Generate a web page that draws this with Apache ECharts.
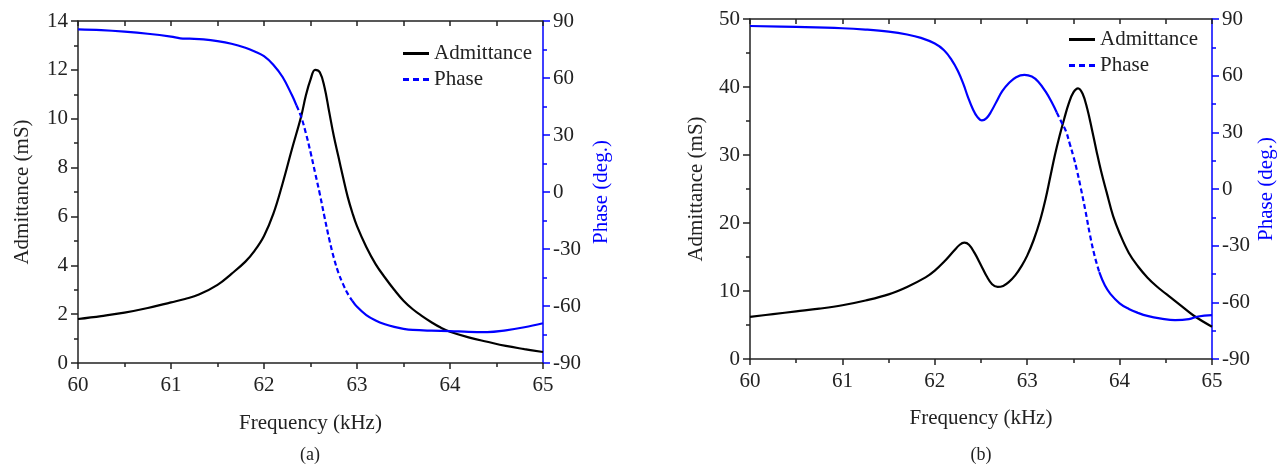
<!DOCTYPE html>
<html>
<head>
<meta charset="utf-8">
<script src="https://cdn.jsdelivr.net/npm/echarts@6/dist/echarts.min.js"></script>
<style>html,body{margin:0;padding:0;background:#fff;overflow:hidden;}#c{width:1280px;height:464px;}</style>
</head>
<body>
<div id="c"></div>
<script>
// ---- Plot (a) ----
const freqAdmA = [60, 60.25, 60.5, 60.75, 61.0, 61.15, 61.3, 61.5, 61.65, 61.8, 61.9, 62.0, 62.1, 62.2, 62.3, 62.4, 62.45, 62.5, 62.55, 62.6, 62.65, 62.7, 62.75, 62.8, 62.85, 62.9, 62.95, 63.0, 63.1, 63.2, 63.3, 63.4, 63.5, 63.6, 63.7, 63.8, 63.9, 64.0, 64.2, 64.4, 64.6, 64.8, 65];
const admA =     [1.8, 1.92, 2.06, 2.25, 2.48, 2.62, 2.8, 3.2, 3.65, 4.15, 4.6, 5.2, 6.1, 7.35, 8.75, 10.1, 10.95, 11.6, 12.0, 11.9, 11.3, 10.3, 9.3, 8.45, 7.6, 6.8, 6.15, 5.6, 4.75, 4.05, 3.5, 3.0, 2.55, 2.2, 1.92, 1.67, 1.45, 1.28, 1.05, 0.87, 0.7, 0.57, 0.45];
const freqPhA = [60, 60.25, 60.5, 60.75, 61.0, 61.1, 61.2, 61.35, 61.5, 61.65, 61.8, 61.9, 62.0, 62.1, 62.2, 62.3, 62.35, 62.4, 62.45, 62.5, 62.55, 62.6, 62.65, 62.7, 62.75, 62.8, 62.85, 62.9, 62.95, 63.0, 63.1, 63.2, 63.3, 63.4, 63.5, 63.6, 63.8, 64.0, 64.2, 64.4, 64.6, 64.8, 65];
const phA =     [85.6, 85.2, 84.4, 83.3, 81.8, 80.9, 80.7, 80.3, 79.4, 78.0, 75.9, 74.0, 71.5, 67.0, 60.5, 51.0, 45.5, 39.5, 31, 21, 10, -1, -13, -24.5, -34.5, -42.5, -48.5, -53.5, -57.3, -60.4, -64.8, -67.6, -69.6, -71.0, -72.0, -72.6, -73.0, -73.2, -73.6, -73.7, -72.8, -71.2, -69.1];
const dashA = [62.35, 62.95];

// ---- Plot (b) ----
const freqAdmB = [60, 60.25, 60.5, 60.75, 61.0, 61.25, 61.5, 61.7, 61.9, 62.0, 62.1, 62.2, 62.27, 62.32, 62.37, 62.43, 62.5, 62.56, 62.62, 62.68, 62.74, 62.8, 62.87, 62.94, 63.0, 63.07, 63.14, 63.2, 63.25, 63.3, 63.35, 63.4, 63.45, 63.5, 63.55, 63.6, 63.65, 63.7, 63.75, 63.8, 63.86, 63.93, 64.0, 64.1, 64.2, 64.3, 64.4, 64.5, 64.65, 64.8, 65];
const admB =     [6.2, 6.6, 7.0, 7.4, 7.9, 8.6, 9.5, 10.6, 12.0, 13.0, 14.3, 15.8, 16.8, 17.1, 16.8, 15.6, 13.8, 12.2, 11.0, 10.6, 10.75, 11.3, 12.3, 13.7, 15.2, 17.5, 20.4, 23.6, 26.8, 30.0, 32.8, 35.3, 37.6, 39.2, 39.8, 39.0, 36.8, 33.8, 30.6, 27.6, 24.5, 21.0, 18.5, 15.6, 13.6, 12.0, 10.7, 9.6, 8.0, 6.4, 4.75];
const freqPhB = [60, 60.5, 61.0, 61.25, 61.5, 61.7, 61.85, 62.0, 62.1, 62.18, 62.25, 62.31, 62.36, 62.41, 62.46, 62.51, 62.56, 62.61, 62.67, 62.73, 62.8, 62.88, 62.97, 63.05, 63.12, 63.2, 63.27, 63.32, 63.37, 63.42, 63.46, 63.5, 63.54, 63.58, 63.63, 63.68, 63.73, 63.78, 63.84, 63.9, 64.0, 64.1, 64.2, 64.3, 64.45, 64.6, 64.75, 64.85, 65];
const phB =     [86.3, 85.8, 85.1, 84.4, 83.3, 81.8, 80.0, 77.0, 73.5, 68.5, 62.5, 55.5, 48.5, 42.5, 38.2, 36.3, 37.5, 41.0, 46.5, 51.8, 56.0, 59.2, 60.4, 59.5, 56.8, 51.5, 45.5, 40.5, 35.5, 30.5, 24.0, 17.3, 9.5, 0.5, -11.5, -24.5, -35.5, -44.0, -51.0, -55.5, -60.5, -63.5, -65.6, -67.2, -68.6, -69.4, -68.9, -67.5, -66.8];
const dashB = [63.32, 63.78];

const admTicksA = {min: 0, max: 14, interval: 2};
const admTicksB = {min: 0, max: 50, interval: 10};
const phTicks = {min: -90, max: 90, interval: 30};
const freqTicks = {min: 60, max: 65, interval: 1};

const FONT = 'Liberation Serif';
const FS = 21;
const BLUE = '#0000ff';
const AX = '#222';
const ICON_SOLID = 'path://M0,0H26V3H0Z';
const ICON_DASH = 'path://M0,0H6V3H0Z M10,0H16V3H10Z M20,0H26V3H20Z';

function pairs(f, v) { return f.map((x, i) => [x, v[i]]); }
function segment(f, v, lo, hi) { return pairs(f, v).filter(p => p[0] >= lo && p[0] <= hi); }

function xAxes(grid, gap) {
  return [
    {gridIndex: grid, type: 'value', min: freqTicks.min, max: freqTicks.max, interval: freqTicks.interval,
     name: 'Frequency (kHz)', nameLocation: 'middle', nameGap: gap,
     nameTextStyle: {fontFamily: FONT, fontSize: FS, color: AX},
     axisLine: {show: true, onZero: false, lineStyle: {color: AX, width: 1.5}},
     axisTick: {show: true, inside: false, length: 6, lineStyle: {color: AX, width: 1.5}},
     minorTick: {show: true, splitNumber: 2, length: 4, lineStyle: {color: AX, width: 1.5}},
     axisLabel: {fontFamily: FONT, fontSize: FS, color: AX, margin: 12},
     splitLine: {show: false}},
    {gridIndex: grid, type: 'value', position: 'top', min: freqTicks.min, max: freqTicks.max, interval: freqTicks.interval,
     axisLine: {show: true, onZero: false, lineStyle: {color: AX, width: 1.5}},
     axisTick: {show: true, inside: true, length: 5, lineStyle: {color: AX, width: 1.5}},
     minorTick: {show: true, splitNumber: 2, length: 5, lineStyle: {color: AX, width: 1.5}},
     axisLabel: {show: false}, splitLine: {show: false}}
  ];
}
function yAxes(grid, adm, gapL, gapR) {
  return [
    {gridIndex: grid, type: 'value', position: 'left', min: adm.min, max: adm.max, interval: adm.interval,
     name: 'Admittance (mS)', nameLocation: 'middle', nameGap: gapL, nameRotate: 90,
     nameTextStyle: {fontFamily: FONT, fontSize: FS, color: AX},
     axisLine: {show: true, onZero: false, lineStyle: {color: AX, width: 1.5}},
     axisTick: {show: true, inside: false, length: 7, lineStyle: {color: AX, width: 1.5}},
     minorTick: {show: true, splitNumber: 2, length: 4, lineStyle: {color: AX, width: 1.5}},
     axisLabel: {fontFamily: FONT, fontSize: FS, color: AX, margin: 10},
     splitLine: {show: false}},
    {gridIndex: grid, type: 'value', position: 'right', min: phTicks.min, max: phTicks.max, interval: phTicks.interval,
     name: 'Phase (deg.)', nameLocation: 'middle', nameGap: gapR, nameRotate: 90,
     nameTextStyle: {fontFamily: FONT, fontSize: FS, color: BLUE},
     axisLine: {show: true, onZero: false, lineStyle: {color: BLUE, width: 1.5}},
     axisTick: {show: true, inside: false, length: 7, lineStyle: {color: BLUE, width: 1.5}},
     minorTick: {show: true, splitNumber: 2, length: 4, lineStyle: {color: BLUE, width: 1.5}},
     axisLabel: {fontFamily: FONT, fontSize: FS, color: AX, margin: 10},
     splitLine: {show: false}}
  ];
}
function lineSeries(name, xi, yi, data, color, dashed) {
  return {name: name, type: 'line', xAxisIndex: xi, yAxisIndex: yi, data: data,
    smooth: 0.4, symbol: 'none', showSymbol: false, clip: true,
    lineStyle: {color: color, width: 2.2, type: dashed ? [5, 3] : 'solid'},
    itemStyle: {color: color}};
}
function legendAt(left, top) {
  return {left: left, top: top, orient: 'vertical', padding: 0, itemGap: 5, itemWidth: 26, itemHeight: 3,
    data: [{name: 'Admittance', icon: ICON_SOLID}, {name: 'Phase', icon: ICON_DASH}],
    textStyle: {fontFamily: FONT, fontSize: FS, color: AX}, selectedMode: false};
}

const option = {
  animation: false,
  backgroundColor: '#fff',
  grid: [
    {left: 78, top: 21, width: 465, height: 342, outerBoundsMode: 'none', containLabel: false},
    {left: 750, top: 19, width: 462, height: 340, outerBoundsMode: 'none', containLabel: false}
  ],
  xAxis: [...xAxes(0, 50), ...xAxes(1, 49)],
  yAxis: [...yAxes(0, admTicksA, 45, 48), ...yAxes(1, admTicksB, 43, 44)],
  legend: [legendAt(403, 43), legendAt(1069, 29)],
  series: [
    lineSeries('Admittance', 0, 0, pairs(freqAdmA, admA), '#000', false),
    lineSeries('Phase', 0, 1, segment(freqPhA, phA, dashA[0], dashA[1]), BLUE, true),
    lineSeries('phaseA1', 0, 1, segment(freqPhA, phA, 60, dashA[0]), BLUE, false),
    lineSeries('phaseA2', 0, 1, segment(freqPhA, phA, dashA[1], 65), BLUE, false),
    lineSeries('Admittance', 2, 2, pairs(freqAdmB, admB), '#000', false),
    lineSeries('Phase', 2, 3, segment(freqPhB, phB, dashB[0], dashB[1]), BLUE, true),
    lineSeries('phaseB1', 2, 3, segment(freqPhB, phB, 60, dashB[0]), BLUE, false),
    lineSeries('phaseB2', 2, 3, segment(freqPhB, phB, dashB[1], 65), BLUE, false)
  ],
  graphic: [
    {type: 'text', x: 310, y: 455, style: {text: '(a)', textAlign: 'center', textVerticalAlign: 'middle', font: '18px "Liberation Serif"', fill: AX}},
    {type: 'text', x: 981, y: 455, style: {text: '(b)', textAlign: 'center', textVerticalAlign: 'middle', font: '18px "Liberation Serif"', fill: AX}}
  ]
};
const chart = echarts.init(document.getElementById('c'), null, {renderer: 'canvas'});
chart.setOption(option);
</script>
</body>
</html>
